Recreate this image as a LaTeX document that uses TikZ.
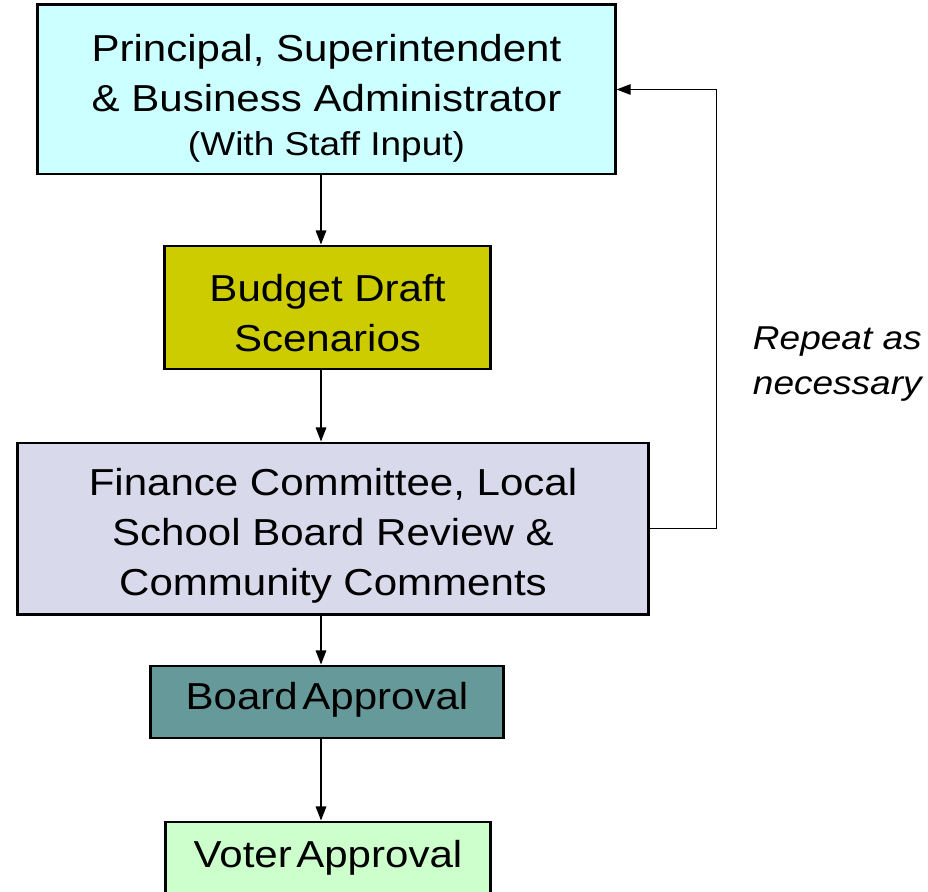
\documentclass[tikz,border=0pt]{standalone}
\usepackage{fontspec}
\setmainfont{Liberation Sans}[FakeStretch=1.12]
\usetikzlibrary{arrows.meta}

\definecolor{topfill}{RGB}{204,255,255}
\definecolor{draftfill}{RGB}{204,204,0}
\definecolor{reviewfill}{RGB}{217,217,236}
\definecolor{boardfill}{RGB}{102,153,153}
\definecolor{voterfill}{RGB}{204,255,204}
\newcommand{\toppad}[1]{\rule{0pt}{#1}}

\begin{document}
\begin{tikzpicture}[x=0.025cm,y=-0.025cm,
  stage/.style={draw,line width=2.1pt,align=center,inner sep=0pt,
    font=\fontsize{26.7}{35.6}\selectfont},
  flow/.style={line width=1pt,-{Triangle[length=10pt,width=7.5pt]}}]
\useasboundingbox (0,0) rectangle (928,892);

  \node[stage,fill=topfill,minimum width=14.425cm,minimum height=4.225cm] (lead) at (326.5,89.5)
    {\toppad{32pt}Principal, Superintendent\\ \& Business Administrator\\[-4pt]
     {\fontsize{23.5}{30}\selectfont (With Staff Input)}};
  \node[stage,fill=draftfill,minimum width=8.125cm,minimum height=3.075cm] (draft) at (327.5,307.5)
    {\toppad{27pt}Budget Draft\\ Scenarios};
  \node[stage,fill=reviewfill,minimum width=15.75cm,minimum height=4.275cm] (review) at (333,528.5)
    {\toppad{30pt}Finance Committee, Local\\ School Board Review \&\\ Community Comments};
  \node[stage,fill=boardfill,minimum width=8.8cm,minimum height=1.8cm] (board) at (327,702)
    {Board\hspace{0.12em}Approval\rule[-9pt]{0pt}{0pt}};
  \node[stage,fill=voterfill,minimum width=8.1cm,minimum height=1.8cm] (voter) at (328,858)
    {Voter\hspace{0.12em}Approval};

  \coordinate (spine) at (321,0);
  \draw[flow] (lead.south -| spine) -- (draft.north -| spine);
  \draw[flow] (draft.south -| spine) -- (review.north -| spine);
  \draw[flow] (review.south -| spine) -- (board.north -| spine);
  \draw[flow] (board.south -| spine) -- (voter.north -| spine);

  % feedback loop
  \draw[flow,line width=0.8pt] (review.east) -- ++(67,0) |- (lead.east);
  \node[anchor=west,align=left,font=\fontsize{23.5}{32}\selectfont\itshape] (repeat) at (748,364)
    {Repeat as\\ necessary};
\end{tikzpicture}
\end{document}
